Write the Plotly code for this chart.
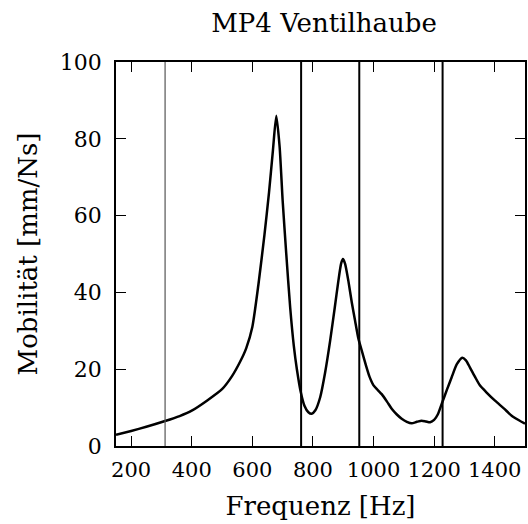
import plotly.graph_objects as go

freq = [150, 200, 250, 312, 360, 400, 450, 500, 533, 560, 580, 600, 620, 640, 655, 668, 679,
        690, 700, 712, 725, 737, 747, 760, 772, 785, 796, 808, 824, 840, 857, 872, 884, 893,
        899, 906, 917, 928, 939, 950, 960, 975, 987, 1000, 1015, 1027, 1045, 1060, 1077, 1093,
        1110, 1126, 1143, 1159, 1173, 1187, 1200, 1212, 1227, 1243, 1258, 1275, 1293, 1305,
        1318, 1335, 1351, 1375, 1401, 1430, 1456, 1480, 1500]
mobility = [2.9, 3.9, 5.0, 6.5, 7.8, 9.2, 11.8, 14.8, 18.2, 22.0, 25.5, 31.0, 42.0, 55.0, 66.0,
            77.0, 86.0, 78.0, 64.0, 50.0, 36.0, 26.0, 20.0, 14.0, 10.5, 8.8, 8.4, 9.3, 12.7, 19.0,
            27.5, 36.0, 43.0, 47.5, 48.7, 47.5, 43.0, 37.5, 32.7, 28.0, 25.2, 21.0, 18.0, 15.8,
            14.5, 13.5, 11.5, 9.7, 8.2, 7.1, 6.3, 5.9, 6.3, 6.6, 6.4, 6.2, 6.8, 8.2, 11.4, 14.8,
            17.9, 21.3, 23.0, 22.3, 20.5, 18.0, 15.8, 13.8, 11.8, 9.8, 7.9, 6.7, 5.8]

marker_freqs = [312, 761, 953, 1228]
marker_colors = ["#555555", "black", "black", "black"]
marker_widths = [1.2, 2, 2, 2]

x_ticks = [200, 400, 600, 800, 1000, 1200, 1400]
y_ticks = [0, 20, 40, 60, 80, 100]

FONT = "DejaVu Serif"

fig = go.Figure()
fig.add_trace(go.Scatter(x=freq, y=mobility, mode="lines",
                         line=dict(color="black", width=2.5, shape="spline", smoothing=0.6),
                         showlegend=False))

for f, c, w in zip(marker_freqs, marker_colors, marker_widths):
    fig.add_shape(type="line", xref="x", yref="paper", x0=f, x1=f, y0=0, y1=1,
                  line=dict(color=c, width=w))

fig.update_layout(
    width=528, height=524,
    margin=dict(l=116, r=3, t=62, b=78),
    paper_bgcolor="white", plot_bgcolor="white",
    font=dict(family=FONT, size=22, color="black"),
    title=dict(text="MP4 Ventilhaube", x=324/528, xref="container", xanchor="center",
               y=1 - 23/524, yref="container", yanchor="middle",
               font=dict(family=FONT, size=26, color="black")),
)
fig.update_xaxes(range=[150, 1500], tickvals=x_ticks, ticks="inside", ticklen=10,
                 tickwidth=1, tickcolor="black", showline=True, linecolor="black",
                 linewidth=1.5, mirror="ticks", showgrid=False, zeroline=False,
                 tickangle=0, automargin=False, ticklabelstandoff=4,
                 title=dict(text="Frequenz [Hz]", standoff=16),
                 tickfont=dict(size=21))
fig.update_yaxes(range=[0, 100], tickvals=y_ticks, ticks="inside", ticklen=10,
                 tickwidth=1, tickcolor="black", showline=True, linecolor="black",
                 linewidth=1.5, mirror="ticks", showgrid=False, zeroline=False,
                 automargin=False,
                 title=dict(text="Mobilität [mm/Ns]", standoff=15),
                 ticklabelstandoff=8,
                 tickfont=dict(size=22))

fig.write_html("out.html", config={"displayModeBar": False},
               post_script="document.body.style.margin='0';")
